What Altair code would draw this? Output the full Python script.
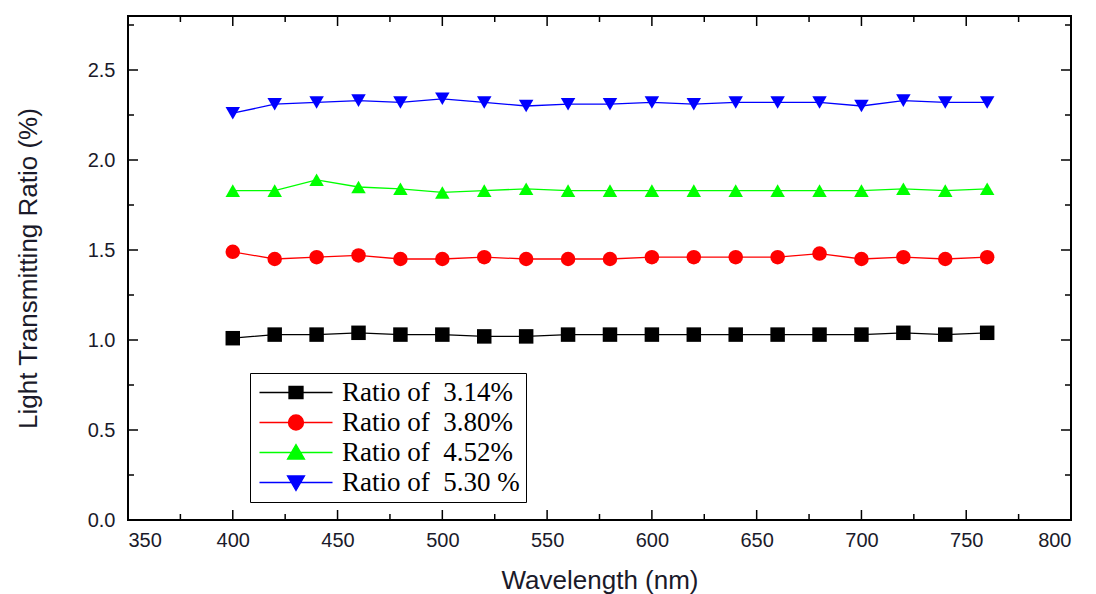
import altair as alt
import pandas as pd

wavelength = [400, 420, 440, 460, 480, 500, 520, 540, 560, 580, 600, 620, 640, 660, 680, 700, 720, 740, 760]
ratio_314 = [1.01, 1.03, 1.03, 1.04, 1.03, 1.03, 1.02, 1.02, 1.03, 1.03, 1.03, 1.03, 1.03, 1.03, 1.03, 1.03, 1.04, 1.03, 1.04]
ratio_380 = [1.49, 1.45, 1.46, 1.47, 1.45, 1.45, 1.46, 1.45, 1.45, 1.45, 1.46, 1.46, 1.46, 1.46, 1.48, 1.45, 1.46, 1.45, 1.46]
ratio_452 = [1.83, 1.83, 1.89, 1.85, 1.84, 1.82, 1.83, 1.84, 1.83, 1.83, 1.83, 1.83, 1.83, 1.83, 1.83, 1.83, 1.84, 1.83, 1.84]
ratio_530 = [2.26, 2.31, 2.32, 2.33, 2.32, 2.34, 2.32, 2.30, 2.31, 2.31, 2.32, 2.31, 2.32, 2.32, 2.32, 2.30, 2.33, 2.32, 2.32]

series_names = ["Ratio of\u00a0 3.14%", "Ratio of\u00a0 3.80%", "Ratio of\u00a0 4.52%", "Ratio of\u00a0 5.30 %"]
series_colors = ["#000000", "#ff0000", "#00ff00", "#0000ff"]
series_shapes = ["square", "circle", "triangle-up", "triangle-down"]
# legend glyphs: a short line with the marker in its middle
legend_shapes = [
    "M-1,0H6.3M1.95,-0.62H3.35V0.62H1.95Z",
    "M-1,0H6.3M3.4,0A0.75,0.75,0,1,1,1.9,0A0.75,0.75,0,1,1,3.4,0Z",
    "M-1,0H6.3M2.65,-0.8L3.5,0.65H1.8Z",
    "M-1,0H6.3M2.65,0.8L3.5,-0.65H1.8Z",
]

x_major = [350, 400, 450, 500, 550, 600, 650, 700, 750, 800]
x_minor = [375, 425, 475, 525, 575, 625, 675, 725, 775]
y_major = [0.0, 0.5, 1.0, 1.5, 2.0, 2.5]
y_minor = [0.25, 0.75, 1.25, 1.75, 2.25, 2.75]

rows = []
for name, vals in zip(series_names, [ratio_314, ratio_380, ratio_452, ratio_530]):
    for w, v in zip(wavelength, vals):
        rows.append({"Wavelength": w, "Ratio": v, "Series": name})
df = pd.DataFrame(rows)

W, H = 943, 504
xscale = alt.Scale(domain=[350, 800], nice=False, zero=False)
yscale = alt.Scale(domain=[0, 2.8], nice=False, zero=False)
cscale = alt.Scale(domain=series_names, range=series_colors)

base = alt.Chart(df)
lines = base.mark_line(strokeWidth=1.3).encode(
    x=alt.X("Wavelength:Q", scale=xscale,
            axis=alt.Axis(values=x_major, ticks=False, domain=False, grid=False,
                          title="Wavelength (nm)", labelPadding=10, titlePadding=17)),
    y=alt.Y("Ratio:Q", scale=yscale,
            axis=alt.Axis(values=y_major, format=".1f", ticks=False, domain=False, grid=False,
                          title="Light Transmitting Ratio (%)", labelPadding=13, titlePadding=46)),
    color=alt.Color("Series:N", scale=cscale, sort=series_names, legend=None),
    detail="Series:N",
)
points = base.mark_point(filled=True, size=210, opacity=1).encode(
    x=alt.X("Wavelength:Q", scale=xscale),
    y=alt.Y("Ratio:Q", scale=yscale),
    color=alt.Color("Series:N", scale=cscale, sort=series_names, legend=None),
    shape=alt.Shape("Series:N", scale=alt.Scale(domain=series_names, range=series_shapes),
                    sort=series_names, legend=None),
)
data_layer = alt.layer(lines, points)

legend = alt.Legend(orient="none", legendX=122, legendY=357,
                    strokeColor="black", fillColor="white", padding=6,
                    labelFont="Liberation Serif", labelFontSize=27,
                    labelColor="black", symbolSize=400, rowPadding=2,
                    symbolStrokeWidth=1.3, labelLimit=400, labelOffset=59, title=None)
legend_layer = alt.Chart(pd.DataFrame({"Series": series_names})).transform_filter(
    "false"
).mark_point(filled=True, opacity=1, strokeWidth=1.3).encode(
    x=alt.value(0), y=alt.value(0),
    color=alt.Color("Series:N", scale=cscale, sort=series_names, legend=legend),
    stroke=alt.Stroke("Series:N", scale=cscale, sort=series_names, legend=legend),
    shape=alt.Shape("Series:N", scale=alt.Scale(domain=series_names, range=legend_shapes),
                    sort=series_names, legend=legend),
)

def vticks(vals, y0, y1):
    return alt.Chart(pd.DataFrame({"v": vals})).mark_rule(color="black", strokeWidth=1.5).encode(
        x=alt.X("v:Q", scale=xscale), y=alt.value(y0), y2=alt.value(y1))

def hticks(vals, x0, x1):
    return alt.Chart(pd.DataFrame({"v": vals})).mark_rule(color="black", strokeWidth=1.5).encode(
        y=alt.Y("v:Q", scale=yscale), x=alt.value(x0), x2=alt.value(x1))

tick_layers = [
    vticks(x_major, H, H - 10), vticks(x_minor, H, H - 6),
    vticks(x_major, 0, 10), vticks(x_minor, 0, 6),
    hticks(y_major, 0, 10), hticks(y_minor, 0, 6),
    hticks(y_major, W, W - 10), hticks(y_minor, W, W - 6),
]

chart = alt.layer(data_layer, legend_layer, *tick_layers).resolve_scale(
    color="independent", shape="independent", stroke="independent"
).properties(
    width=W, height=H,
    autosize=alt.AutoSizeParams(type="none"),
    padding={"left": 128, "top": 16, "right": 25, "bottom": 74},
    background="white",
).configure_view(stroke="black", strokeWidth=2).configure_axis(
    labelFont="Liberation Sans", labelFontSize=20, labelColor="#1a1a2a",
    titleFont="Liberation Sans", titleFontSize=26, titleFontWeight="normal", titleColor="#1a1a2a",
)

chart.save("out.html", embed_options={"renderer": "svg", "actions": False})
